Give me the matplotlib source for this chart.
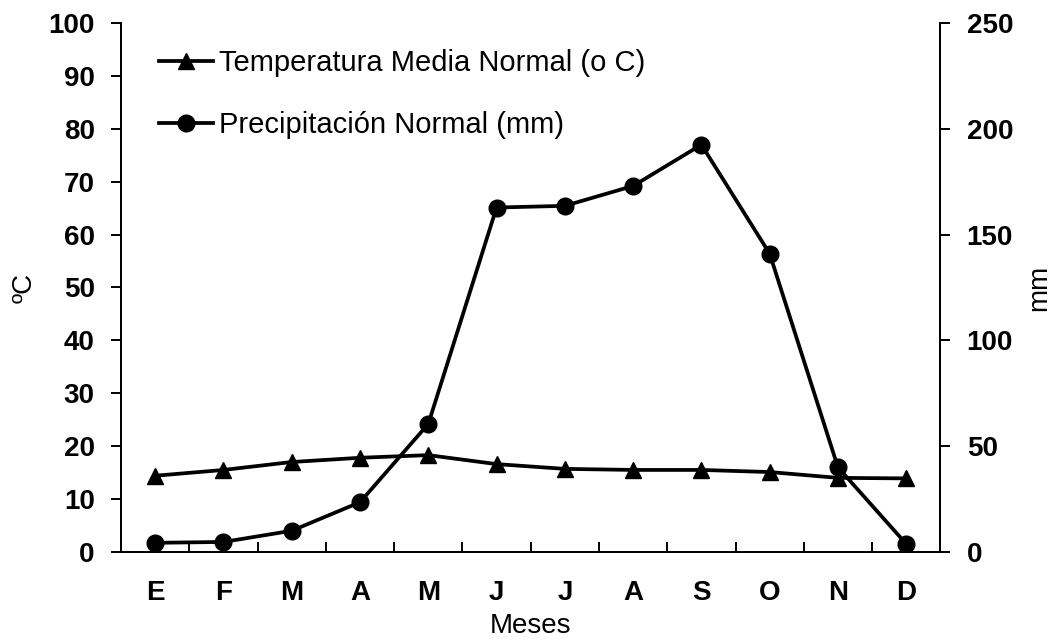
import numpy as np
import matplotlib.pyplot as plt
from matplotlib.ticker import FixedLocator

plt.rcParams['font.family'] = ['Liberation Sans', 'DejaVu Sans']

# Datos
meses = ["E", "F", "M", "A", "M", "J", "J", "A", "S", "O", "N", "D"]
temperatura = [14.4, 15.5, 17.0, 17.8, 18.3, 16.6, 15.7, 15.5, 15.5, 15.1, 14.0, 13.9]
precipitacion = [4.3, 4.7, 10.0, 23.5, 60.5, 162.8, 163.6, 173.0, 192.5, 141.0, 40.0, 3.8]

x = np.arange(len(meses))

fig = plt.figure(figsize=(10.53, 6.41), dpi=100)
ax = fig.add_axes([0.115, 0.139, 0.778, 0.825])
ax2 = ax.twinx()

l1, = ax.plot(x, temperatura, color='black', lw=2.7, marker='^', markersize=11,
              label="Temperatura Media Normal (o C)")
l2, = ax2.plot(x, precipitacion, color='black', lw=2.7, marker='o', markersize=12,
               label="Precipitación Normal (mm)")

ax.set_xlim(-0.5, 11.5)
ax.set_ylim(0, 100)
ax2.set_ylim(0, 250)
ax.set_yticks(np.arange(0, 101, 10))
ax2.set_yticks(np.arange(0, 251, 50))

ax.set_xticks(x)
ax.set_xticklabels(meses, fontsize=20, fontweight='bold')
ax.tick_params(axis='x', which='major', length=0, pad=20)
ax.xaxis.set_minor_locator(FixedLocator(np.arange(0.5, 11, 1)))
ax.tick_params(axis='x', which='minor', direction='in', length=7, width=1.4)

for a in (ax, ax2):
    a.spines['top'].set_visible(False)
    for s in a.spines.values():
        s.set_linewidth(1.4)
ax.tick_params(axis='y', direction='out', length=7, width=1.4, labelsize=20, pad=12)
ax2.tick_params(axis='y', direction='out', length=7, width=1.4, labelsize=20, pad=12)
for lab in ax.get_yticklabels() + ax2.get_yticklabels():
    lab.set_fontweight('bold')

ax.set_xlabel("Meses", fontsize=20, labelpad=5)
ax.set_ylabel("ºC", fontsize=20, labelpad=8)
ax2.set_ylabel("mm", fontsize=20, labelpad=9)

ax.legend(handles=[l1, l2], loc='upper left', bbox_to_anchor=(0.014, 1.0), frameon=False,
          fontsize=21, handlelength=1.86, handletextpad=0.2, labelspacing=1.17)

fig.savefig("out.png", dpi=100)
